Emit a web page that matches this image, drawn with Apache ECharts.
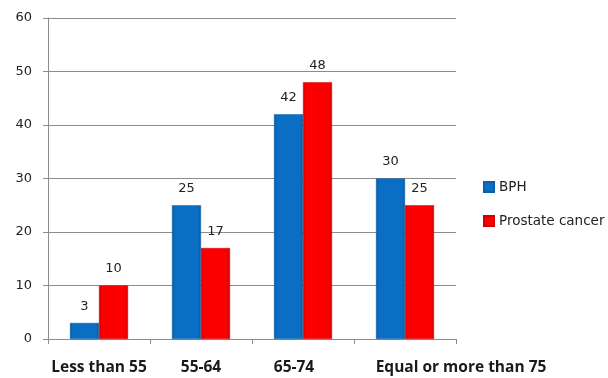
<!DOCTYPE html>
<html>
<head>
<meta charset="utf-8">
<script src="https://cdn.jsdelivr.net/npm/echarts@6/dist/echarts.min.js"></script>
<style>
  html, body { margin: 0; padding: 0; background: #fff; }
  #chart { width: 608px; height: 378px; }
</style>
</head>
<body>
<div id="chart"></div>
<script>
// Age groups and counts per diagnosis
const categories = ['Less than 55', '55-64', '65-74', 'Equal or more than 75'];
const bphValues = [3, 25, 42, 30];
const cancerValues = [10, 17, 48, 25];
const seriesNames = ['BPH', 'Prostate cancer'];

// Per-label padding: nudges the last two category names sideways
const labelPadding = [null, null, [0, 18, 0, 0], [0, 0, 0, 112]];

function barGradient(edge, mid) {
  return new echarts.graphic.LinearGradient(0, 0, 1, 0, [
    { offset: 0, color: edge },
    { offset: 0.1, color: mid },
    { offset: 0.9, color: mid },
    { offset: 1, color: edge }
  ]);
}

const labelStyle = {
  show: true,
  position: 'top',
  distance: 10,
  color: '#222',
  fontSize: 13,
  fontFamily: 'DejaVu Sans'
};

const categoryData = categories.map((name, i) =>
  labelPadding[i] ? { value: name, textStyle: { padding: labelPadding[i] } } : name
);

const chart = echarts.init(document.getElementById('chart'), null, { renderer: 'canvas' });
chart.setOption({
  animation: false,
  backgroundColor: '#fff',
  grid: { left: 48, right: 152, top: 18, bottom: 39 },
  legend: {
    orient: 'vertical',
    left: 478,
    top: 175,
    itemWidth: 10,
    itemHeight: 10,
    itemGap: 20,
    icon: 'rect',
    textStyle: { fontSize: 13.5, color: '#222', fontFamily: 'DejaVu Sans' },
    data: seriesNames
  },
  xAxis: {
    type: 'category',
    data: categoryData,
    axisLine: { lineStyle: { color: '#8c8c8c', width: 1 } },
    axisTick: { show: true, length: 5, lineStyle: { color: '#8c8c8c' } },
    axisLabel: {
      interval: 0,
      margin: 21,
      color: '#1a1a1a',
      fontSize: 15.5,
      fontWeight: 'bold',
      fontFamily: 'Open Sans'
    }
  },
  yAxis: {
    type: 'value',
    min: 0,
    max: 60,
    interval: 10,
    axisLine: { show: true, lineStyle: { color: '#8c8c8c' } },
    axisTick: { show: true, length: 5, lineStyle: { color: '#8c8c8c' } },
    axisLabel: { margin: 16, color: '#222', fontSize: 13, fontFamily: 'DejaVu Sans' },
    splitLine: { lineStyle: { color: '#8c8c8c', width: 1 } }
  },
  series: [
    {
      name: seriesNames[0],
      type: 'bar',
      data: bphValues,
      barWidth: 29,
      barGap: '0%',
      itemStyle: {
        color: barGradient('#04569c', '#0a6fc4'),
        borderColor: '#0a5fa8',
        borderWidth: 0.5
      },
      label: labelStyle
    },
    {
      name: seriesNames[1],
      type: 'bar',
      data: cancerValues,
      barWidth: 29,
      barGap: '0%',
      itemStyle: {
        color: barGradient('#c40000', '#fa0000'),
        borderColor: '#d00000',
        borderWidth: 0.5
      },
      label: labelStyle
    }
  ]
});
</script>
</body>
</html>
